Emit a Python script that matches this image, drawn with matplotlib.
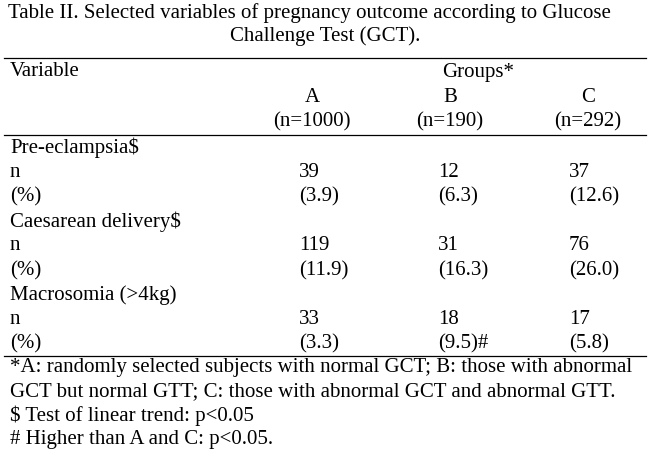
import matplotlib.pyplot as plt

title_lines = ["Table II. Selected variables of pregnancy outcome according to Glucose",
               "Challenge Test (GCT)."]
groups = ["A", "B", "C"]
group_n = ["(n=1000)", "(n=190)", "(n=292)"]
variables = ["Pre-eclampsia$", "Caesarean delivery$", "Macrosomia (>4kg)"]
counts = [["39", "12", "37"], ["119", "31", "76"], ["33", "18", "17"]]
percents = [["(3.9)", "(6.3)", "(12.6)"], ["(11.9)", "(16.3)", "(26.0)"],
            ["(3.3)", "(9.5)#", "(5.8)"]]
footnotes = ["*A: randomly selected subjects with normal GCT; B: those with abnormal",
             "GCT but normal GTT; C: those with abnormal GCT and abnormal GTT.",
             "$ Test of linear trend: p<0.05",
             "# Higher than A and C: p<0.05."]

plt.rcParams['font.family'] = ['Liberation Serif', 'DejaVu Serif']
fig = plt.figure(figsize=(6.5, 4.64), dpi=100)
ax = fig.add_axes([0, 0, 1, 1])
ax.set_xlim(0, 650)
ax.set_ylim(464, 0)
ax.axis('off')

fs = 15
ax.text(8, 13, title_lines[0], fontsize=fs, va='center')
ax.text(325, 36, title_lines[1], fontsize=fs, va='center', ha='center')
for y in (59, 136, 357):
    ax.plot([4, 646], [y, y], color='black', linewidth=0.9)

ax.text(10, 72, "Variable", fontsize=fs, va='center')
ax.text(478, 72, "Groups*", fontsize=fs, va='center', ha='center')
col_c = [312, 450, 588]
col_l = [299, 438, 569]
for i in range(3):
    ax.text(col_c[i], 97, groups[i], fontsize=fs, va='center', ha='center')
    ax.text(col_c[i], 122, group_n[i], fontsize=fs, va='center', ha='center')

y = 148
for v, cnt, pct in zip(variables, counts, percents):
    ax.text(10, y, v, fontsize=fs, va='center')
    ax.text(10, y + 24.5, "n", fontsize=fs, va='center')
    ax.text(10, y + 49, "(%)", fontsize=fs, va='center')
    for i in range(3):
        ax.text(col_l[i], y + 24.5, cnt[i], fontsize=fs, va='center')
        ax.text(col_l[i], y + 49, pct[i], fontsize=fs, va='center')
    y += 73.5

for k, line in enumerate(footnotes):
    ax.text(10, 368 + k * 24, line, fontsize=fs, va='center')

fig.savefig("out.png", dpi=100)
